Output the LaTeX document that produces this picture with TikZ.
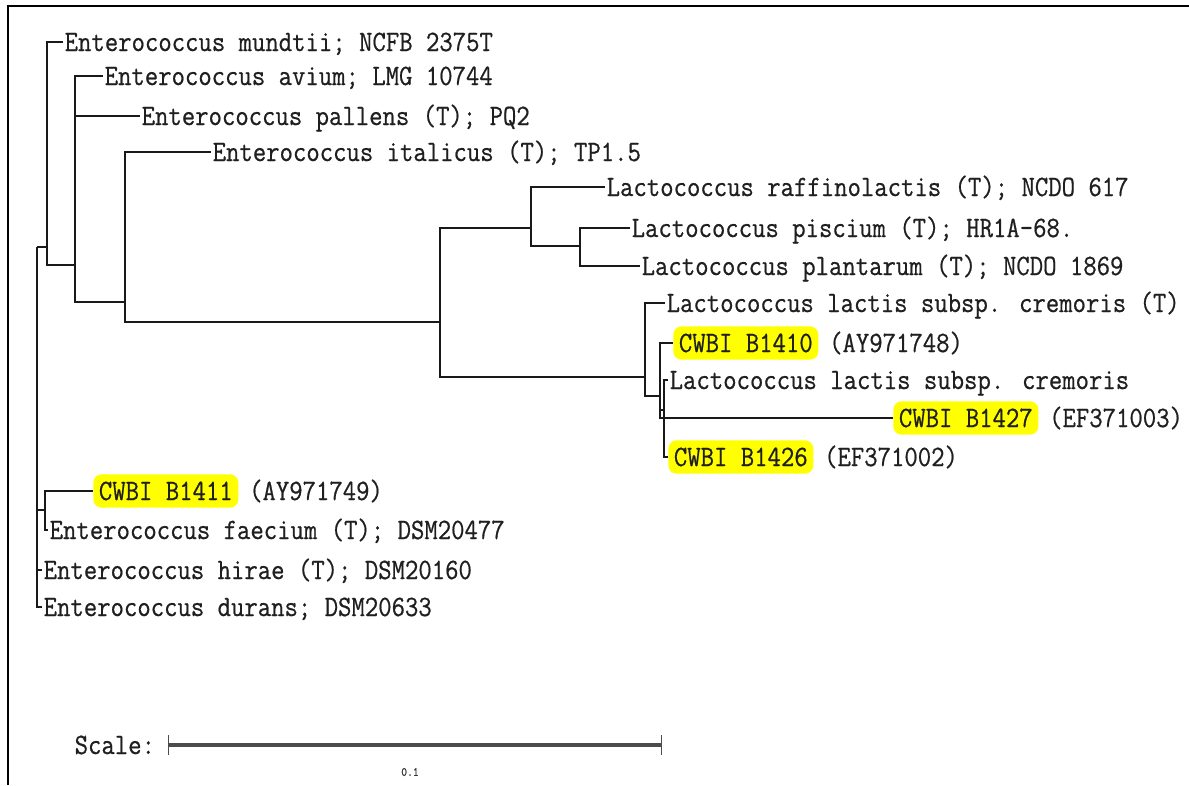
\documentclass[tikz,border=0pt]{standalone}
\usepackage{fontspec}
\newfontfamily\treefont[FakeStretch=0.88,FakeBold=0.6]{Latin Modern Mono}
\definecolor{hlyellow}{RGB}{255,255,0}
\definecolor{treeline}{RGB}{25,25,25}
\usetikzlibrary{arrows.meta,positioning}

\begin{document}
\begin{tikzpicture}[x=0.025cm, y=-0.025cm,
  branch/.style={draw=treeline, line width=1.1pt},
  leaf/.style={anchor=west, inner xsep=1pt, inner ysep=0pt, text height=12.8pt, text depth=0pt,
    font=\treefont\fontsize{21}{23}\selectfont, text=black!88},
  strain/.style={leaf, fill=hlyellow, inner xsep=4pt, inner ysep=5.5pt, rounded corners=6pt},
  acc/.style={leaf, right=0.22cm of #1}]
  \useasboundingbox (0,0) rectangle (1189,785);

  %% Frame
  \draw[line width=1.4pt] (8,785) -- (8,6) -- (1189,6);

  %% Internal nodes
  \coordinate (R) at (37,247);
  \coordinate (A) at (47,247);
  \coordinate (B) at (75,265);
  \coordinate (C) at (125,302);
  \coordinate (D) at (440,322);
  \coordinate (E) at (531,228);
  \coordinate (F) at (580,246);
  \coordinate (G) at (645,377);
  \coordinate (H) at (660,396);
  \coordinate (J) at (664,410);
  \coordinate (I) at (45,510);

  %% Enterococcus leaves (top)
  \node[leaf] (mundtii)  at (63,42)   {Enterococcus mundtii; NCFB 2375T};
  \node[leaf] (avium)    at (103,76)  {Enterococcus avium; LMG 10744};
  \node[leaf] (pallens)  at (140,116) {Enterococcus pallens (T); PQ2};
  \node[leaf] (italicus) at (211,152) {Enterococcus italicus (T); TP1.5};

  %% Lactococcus leaves
  \node[leaf] (raffino)   at (605,187) {Lactococcus raffinolactis (T); NCDO 617};
  \node[leaf] (piscium)   at (630,228) {Lactococcus piscium (T); HR1A-68.};
  \node[leaf] (plantarum) at (640,266) {Lactococcus plantarum (T); NCDO 1869};
  \node[leaf] (cremT)     at (665,303) {Lactococcus lactis subsp. cremoris (T)};
  \node[strain] (b1410)   at (673,343) {CWBI B1410};
  \node[acc=b1410] (b1410acc) {(AY971748)};
  \node[leaf] (crem)      at (668,380) {Lactococcus lactis subsp. cremoris};
  \node[strain] (b1427)   at (893,418) {CWBI B1427};
  \node[acc=b1427] (b1427acc) {(EF371003)};
  \node[strain] (b1426)   at (668,457) {CWBI B1426};
  \node[acc=b1426] (b1426acc) {(EF371002)};

  %% Enterococcus leaves (bottom)
  \node[strain] (b1411)  at (93,491)  {CWBI B1411};
  \node[acc=b1411] (b1411acc) {(AY971749)};
  \node[leaf] (faecium)  at (48,530)  {Enterococcus faecium (T); DSM20477};
  \node[leaf] (hirae)    at (42,570)  {Enterococcus hirae (T); DSM20160};
  \node[leaf] (durans)   at (42,607)  {Enterococcus durans; DSM20633};

  %% Branches
  \draw[branch] (R) -- (A);
  \draw[branch] (R) |- (I);
  \draw[branch] (R) |- (hirae.west);
  \draw[branch] (R) |- (durans.west);
  \draw[branch] (A) |- (mundtii.west);
  \draw[branch] (A) |- (B);
  \draw[branch] (B) |- (avium.west);
  \draw[branch] (B) |- (pallens.west);
  \draw[branch] (B) |- (C);
  \draw[branch] (C) |- (italicus.west);
  \draw[branch] (C) |- (D);
  \draw[branch] (D) |- (E);
  \draw[branch] (D) |- (G);
  \draw[branch] (E) |- (raffino.west);
  \draw[branch] (E) |- (F);
  \draw[branch] (F) |- (piscium.west);
  \draw[branch] (F) |- (plantarum.west);
  \draw[branch] (G) |- (cremT.west);
  \draw[branch] (G) |- (H);
  \draw[branch] (H) |- (b1410.west);
  \draw[branch] (H) |- (b1427.west);
  \draw[branch] (H) |- (J);
  \draw[branch] (J) |- (crem.west);
  \draw[branch] (J) |- (b1426.west);
  \draw[branch] (I) |- (b1411.west);
  \draw[branch] (I) |- (faecium.west);

  %% Scale bar
  \node[leaf] (scalelbl) at (73,745) {Scale:};
  \coordinate (bar0) at (168,745);
  \coordinate (bar1) at (662,745);
  \draw[line width=2.2pt, draw=black!70, {Bar[width=14pt,line width=1pt]}-{Bar[width=14pt,line width=1pt]}] (bar0) -- (bar1);
  \node[font=\treefont\fontsize{9}{10}\selectfont, text=black!80] (barval) at (410,772) {0.1};
\end{tikzpicture}
\end{document}
